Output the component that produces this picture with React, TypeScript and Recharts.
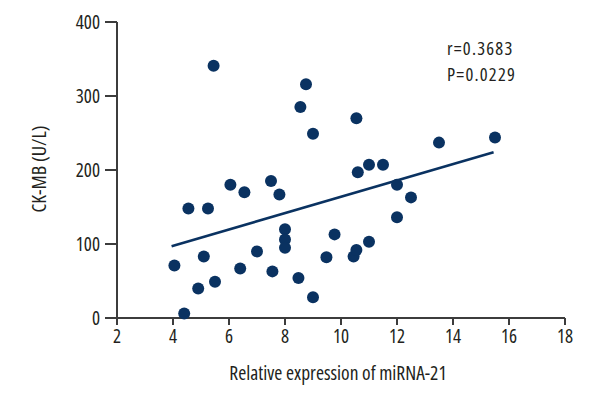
import { ReferenceLine, Scatter, ScatterChart, XAxis, YAxis } from 'recharts'

// relative miRNA-21 expression vs CK-MB, one entry per patient
const mirna = [
  4.05, 4.4, 4.55, 4.9, 5.1, 5.25, 5.45, 5.5, 6.05, 6.4, 6.55, 7.0, 7.5, 7.55, 7.8, 8.0, 8.0, 8.0, 8.48,
  8.55, 8.75, 9.0, 9.0, 9.48, 9.77, 10.45, 10.55, 10.55, 10.6, 11.0, 11.0, 11.5, 12.0, 12.0, 12.5, 13.5, 15.5,
]
const ckmb = [
  71, 6, 148, 40, 83, 148, 341, 49, 180, 67, 170, 90, 185, 63, 167, 120, 106, 95, 54,
  285, 316, 249, 28, 82, 113, 83, 92, 270, 197, 207, 103, 207, 180, 136, 163, 237, 244,
]
const xTicks = [2, 4, 6, 8, 10, 12, 14, 16, 18]
const yTicks = [0, 100, 200, 300, 400]
const fitLine = [
  { x: 3.95, y: 97 },
  { x: 15.45, y: 224 },
]
const stats = ['r=0.3683', 'P=0.0229']

const points = mirna.map((x, i) => ({ x, y: ckmb[i] }))

const font = "'Open Sans', sans-serif"
const navy = '#0a3261'
const axisColor = '#3c3c3c'
const textColor = '#231f20'

export default function App() {
  return (
    <div
      style={{
        position: 'absolute',
        left: 0,
        top: 0,
        width: 600,
        height: 400,
        background: '#fff',
        fontFamily: font,
        fontStretch: '75%',
        color: textColor,
      }}
    >
      <ScatterChart width={600} height={400} margin={{ top: 22, right: 35, left: 0, bottom: 0 }}>
        <XAxis
          type="number"
          dataKey="x"
          domain={[2, 18]}
          ticks={xTicks}
          height={82}
          tickSize={7}
          tickMargin={5}
          stroke={axisColor}
          strokeWidth={2}
          tick={{ fontSize: 19, fill: textColor }}
          label={({ viewBox }: any) => (
            <text
              x={viewBox.x + viewBox.width / 2 - 3}
              y={380}
              textAnchor="middle"
              fontSize={19.5}
              fill={textColor}
            >
              Relative expression of miRNA-21
            </text>
          )}
        />
        <YAxis
          type="number"
          dataKey="y"
          domain={[0, 400]}
          ticks={yTicks}
          width={117}
          tickSize={12}
          tickMargin={5}
          stroke={axisColor}
          strokeWidth={2}
          tick={{ fontSize: 19, fill: textColor }}
          label={({ viewBox }: any) => (
            <text
              x={38}
              y={viewBox.y + viewBox.height / 2 - 1}
              transform={`rotate(-90, 38, ${viewBox.y + viewBox.height / 2 - 1})`}
              textAnchor="middle"
              dominantBaseline="central"
              fontSize={20}
              fill={textColor}
            >
              CK-MB (U/L)
            </text>
          )}
        />
        <ReferenceLine segment={fitLine} stroke={navy} strokeWidth={2.5} />
        <Scatter
          data={points}
          isAnimationActive={false}
          shape={(p: any) => <circle cx={p.cx} cy={p.cy} r={6} fill={navy} />}
        />
      </ScatterChart>
      {stats.map((s, i) => (
        <div
          key={s}
          style={{
            position: 'absolute',
            left: 447,
            top: 35 + i * 25.5,
            fontSize: 18.5,
            letterSpacing: 1.2,
            lineHeight: '25.5px',
            whiteSpace: 'nowrap',
          }}
        >
          {s}
        </div>
      ))}
    </div>
  )
}
